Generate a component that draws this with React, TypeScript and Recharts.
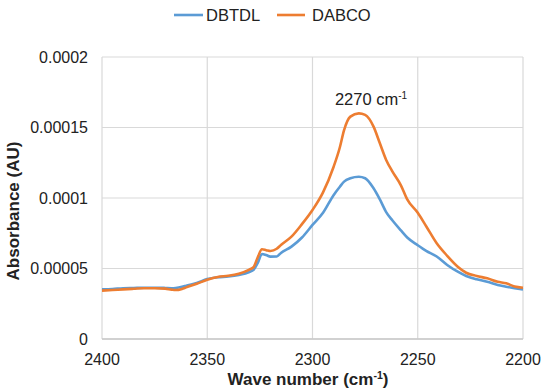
import React from 'react';
import { LineChart, Line, XAxis, YAxis, CartesianGrid } from 'recharts';

const wavenumbers = [
  2400, 2395, 2390, 2385, 2380, 2375, 2370, 2367, 2365, 2362, 2360, 2355, 2350, 2345, 2340,
  2335, 2330, 2328, 2326, 2324, 2322, 2320, 2317, 2315, 2310, 2305, 2300, 2295, 2290, 2287,
  2285, 2282, 2278, 2275, 2271, 2268, 2265, 2262, 2258, 2255, 2250, 2246, 2241, 2236, 2231,
  2227, 2222, 2217, 2212, 2208, 2204, 2200,
];

const dbtdl = [
  3.52e-5, 3.55e-5, 3.6e-5, 3.62e-5, 3.64e-5, 3.64e-5, 3.62e-5, 3.6e-5, 3.62e-5, 3.7e-5, 3.78e-5,
  3.97e-5, 4.25e-5, 4.38e-5, 4.43e-5, 4.54e-5, 4.75e-5, 4.9e-5, 5.4e-5, 6.03e-5, 5.95e-5, 5.84e-5,
  5.85e-5, 6.1e-5, 6.55e-5, 7.2e-5, 8.09e-5, 8.95e-5, 10.2e-5, 10.8e-5, 11.16e-5, 11.4e-5, 11.51e-5,
  11.4e-5, 10.69e-5, 9.9e-5, 9.0e-5, 8.4e-5, 7.7e-5, 7.2e-5, 6.65e-5, 6.25e-5, 5.85e-5, 5.25e-5,
  4.77e-5, 4.47e-5, 4.23e-5, 4.06e-5, 3.83e-5, 3.71e-5, 3.6e-5, 3.52e-5,
];

const dabco = [
  3.43e-5, 3.47e-5, 3.52e-5, 3.56e-5, 3.6e-5, 3.6e-5, 3.57e-5, 3.5e-5, 3.47e-5, 3.55e-5, 3.66e-5,
  3.92e-5, 4.2e-5, 4.4e-5, 4.48e-5, 4.63e-5, 4.92e-5, 5.1e-5, 5.8e-5, 6.36e-5, 6.3e-5, 6.24e-5,
  6.4e-5, 6.67e-5, 7.26e-5, 8.15e-5, 9.15e-5, 10.4e-5, 12.2e-5, 13.6e-5, 14.82e-5, 15.77e-5, 16.0e-5,
  15.89e-5, 15.06e-5, 13.88e-5, 12.7e-5, 11.87e-5, 10.9e-5, 9.9e-5, 8.95e-5, 8.0e-5, 6.79e-5, 5.9e-5,
  5.13e-5, 4.7e-5, 4.47e-5, 4.3e-5, 4.06e-5, 3.95e-5, 3.72e-5, 3.64e-5,
];

const xTicks = [2400, 2350, 2300, 2250, 2200];
const yTicks = [0, 0.00005, 0.0001, 0.00015, 0.0002];

const data = wavenumbers.map((w, i) => ({ w, DBTDL: dbtdl[i], DABCO: dabco[i] }));

const FONT = '"Liberation Sans", Arial, sans-serif';
const BLUE = '#5b9bd5';
const ORANGE = '#ed7d31';

const fmtY = (v: number) => (v === 0 ? '0' : v.toFixed(5).replace(/0+$/, ''));

export default function App() {
  return (
    <div style={{ position: 'absolute', left: 0, top: 0, width: 550, height: 392, background: '#fff' }}>
      <LineChart
        width={550}
        height={392}
        data={data}
        margin={{ top: 57, right: 27, bottom: 23, left: 0 }}
        style={{ fontFamily: FONT }}
      >
        <CartesianGrid stroke="#d9d9d9" strokeWidth={1.2} />
        <XAxis
          dataKey="w"
          type="number"
          domain={[2200, 2400]}
          ticks={xTicks}
          reversed
          height={30}
          tickSize={0}
          tickMargin={15}
          axisLine={{ stroke: '#c8c8c8', strokeWidth: 1.5 }}
          tick={{ fill: '#222', fontSize: 16, fontFamily: FONT }}
        />
        <YAxis
          type="number"
          domain={[0, 0.0002]}
          ticks={yTicks}
          width={102}
          tickSize={0}
          tickMargin={14}
          axisLine={false}
          tickFormatter={fmtY}
          tick={{ fill: '#222', fontSize: 16, fontFamily: FONT }}
        />
        <Line
          type="monotone"
          dataKey="DBTDL"
          stroke={BLUE}
          strokeWidth={2.6}
          dot={false}
          isAnimationActive={false}
        />
        <Line
          type="monotone"
          dataKey="DABCO"
          stroke={ORANGE}
          strokeWidth={2.6}
          dot={false}
          isAnimationActive={false}
        />
        {/* legend */}
        <line x1={174} y1={15} x2={203} y2={15} stroke={BLUE} strokeWidth={2.6} />
        <text x={206} y={15} dy="0.36em" fontSize={16.5} fill="#222" fontFamily={FONT}>DBTDL</text>
        <line x1={277} y1={15} x2={305} y2={15} stroke={ORANGE} strokeWidth={2.6} />
        <text x={312} y={15} dy="0.36em" fontSize={16.5} fill="#222" fontFamily={FONT}>DABCO</text>
        {/* peak annotation */}
        <text x={371} y={99} dy="0.36em" textAnchor="middle" fontSize={16.5} fill="#222" fontFamily={FONT}>
          2270 cm<tspan dy={-6} fontSize={10}>-1</tspan>
        </text>
        {/* axis titles */}
        <text x={308} y={385} textAnchor="middle" fontSize={17} fontWeight="bold" fill="#222" fontFamily={FONT}>
          Wave number (cm<tspan dy={-6} fontSize={10.5}>-1</tspan><tspan dy={6}>)</tspan>
        </text>
        <text
          x={13}
          y={211}
          dy="0.36em"
          textAnchor="middle"
          transform="rotate(-90 13 211)"
          fontSize={17}
          fontWeight="bold"
          fill="#222"
          fontFamily={FONT}
        >
          Absorbance (AU)
        </text>
      </LineChart>
    </div>
  );
}
